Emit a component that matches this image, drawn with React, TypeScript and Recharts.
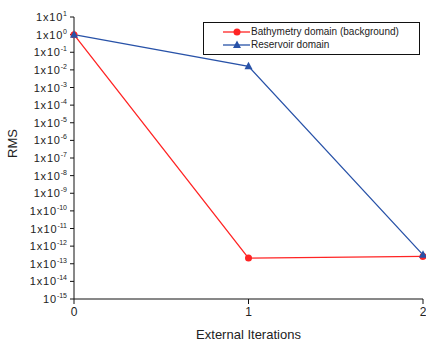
import React from 'react'
import {
  LineChart, Line, XAxis, YAxis, Legend,
} from 'recharts'

const iterations = [0, 1, 2]
const bathymetryRms = [1, 2.1e-13, 2.6e-13]
const reservoirRms = [1, 1.6e-2, 3.2e-13]

const seriesNames = ['Bathymetry domain (background)', 'Reservoir domain']
const seriesColors = ['#ff2424', '#2852a8']

const xMajorTicks = [0, 1, 2]
const xMinorTicks = [0.5, 1.5]
const xTopTicks = [0.5, 1, 1.5]
const yExponents = [1, 0, -1, -2, -3, -4, -5, -6, -7, -8, -9, -10, -11, -12, -13, -14, -15]

const yMajorTicks = yExponents.map(e => Number(`1e${e}`))
const yMinorTicks: number[] = []
yExponents.slice(1).forEach(e => {
  for (let m = 2; m <= 9; m++) yMinorTicks.push(Number(`${m}e${e}`))
})

const yDomain = [1e-15, 10]
const data = iterations.map((it, i) => ({
  it,
  bath: bathymetryRms[i],
  res: reservoirRms[i],
}))

const FONT = '"Liberation Sans", Arial, sans-serif'

function YTick(props: any) {
  const { x, y, payload } = props
  const e = Math.round(Math.log10(payload.value))
  const base = e === -15 ? '10' : '1x10'
  return (
    <text x={x} y={y} textAnchor="end" fontFamily={FONT} fontSize={11} fill="#222" dy={4}>
      <tspan letterSpacing={0.8}>{base}</tspan>
      <tspan dy={-5} fontSize={7}>{e}</tspan>
    </text>
  )
}

function Triangle(props: any) {
  const { cx, cy, stroke } = props
  if (cx == null || cy == null) return null
  return <path d={`M${cx},${cy - 4.5} L${cx + 4},${cy + 3} L${cx - 4},${cy + 3} Z`} fill={stroke} />
}

function LegendBox() {
  return (
    <div style={{
      border: '1px solid #111', width: 217, height: 33, boxSizing: 'border-box',
      fontFamily: FONT, fontSize: 10, color: '#222', paddingTop: 2, background: '#fff',
    }}>
      {seriesNames.map((n, i) => (
        <div key={n} style={{ display: 'flex', alignItems: 'center', height: 13 }}>
          <svg width={47} height={12}>
            <line x1={19} x2={46} y1={6} y2={6} stroke={seriesColors[i]} strokeWidth={1.3} />
            {i === 0
              ? <circle cx={33} cy={6} r={3.5} fill={seriesColors[i]} />
              : <path d="M33,1.5 L37,9 L29,9 Z" fill={seriesColors[i]} />}
          </svg>
          <span>{n}</span>
        </div>
      ))}
    </div>
  )
}

export default function App() {
  return (
    <div style={{ position: 'absolute', left: 0, top: 0, width: 426, height: 345, background: '#fff' }}>
      <LineChart width={426} height={345} data={data} margin={{ top: 17, right: 3, left: 0, bottom: 0 }}>
        <XAxis
          xAxisId="main" dataKey="it" type="number" domain={[0, 2]} ticks={xMajorTicks}
          height={46} tickSize={5} tickMargin={3} stroke="#111"
          tick={{ fill: '#222', fontSize: 12, fontFamily: FONT }}
          label={{ value: 'External Iterations', position: 'insideBottom', offset: 6, fill: '#222', fontSize: 13, fontFamily: FONT }}
        />
        <XAxis
          xAxisId="minor" type="number" domain={[0, 2]} ticks={xMinorTicks}
          height={0} tickSize={3} tick={false} axisLine={false} stroke="#111"
        />
        <XAxis
          xAxisId="top" orientation="top" type="number" domain={[0, 2]} ticks={xTopTicks}
          height={0} tickSize={3} tick={false} stroke="#111"
        />
        <YAxis
          yAxisId="main" scale="log" type="number" domain={yDomain} ticks={yMajorTicks}
          allowDataOverflow interval={0} width={74} tickSize={4} tickMargin={3} stroke="#111"
          tick={<YTick />}
          label={{ value: 'RMS', angle: -90, position: 'insideLeft', offset: 12, fill: '#222', fontSize: 13, fontFamily: FONT }}
        />
        <YAxis
          yAxisId="minor" scale="log" type="number" domain={yDomain} ticks={yMinorTicks}
          allowDataOverflow interval={0} width={0} tickSize={3} tick={false} axisLine={false} stroke="#111"
        />
        <YAxis
          yAxisId="rightMajor" orientation="right" scale="log" type="number" domain={yDomain} ticks={yMajorTicks}
          allowDataOverflow interval={0} width={0} tickSize={4} tick={false} stroke="#111"
        />
        <YAxis
          yAxisId="rightMinor" orientation="right" scale="log" type="number" domain={yDomain} ticks={yMinorTicks}
          allowDataOverflow interval={0} width={0} tickSize={3} tick={false} axisLine={false} stroke="#111"
        />
        <Legend
          layout="vertical" align="center" verticalAlign="middle"
          content={<LegendBox />}
          wrapperStyle={{ left: 203, top: 22, width: 217, height: 33 }}
        />
        <Line
          xAxisId="main" yAxisId="main" dataKey="bath" name={seriesNames[0]}
          stroke={seriesColors[0]} strokeWidth={1.3} isAnimationActive={false}
          dot={{ r: 3.5, fill: seriesColors[0], stroke: seriesColors[0], strokeWidth: 0 }}
        />
        <Line
          xAxisId="main" yAxisId="main" dataKey="res" name={seriesNames[1]}
          stroke={seriesColors[1]} strokeWidth={1.3} isAnimationActive={false}
          dot={<Triangle />}
        />
      </LineChart>
    </div>
  )
}
